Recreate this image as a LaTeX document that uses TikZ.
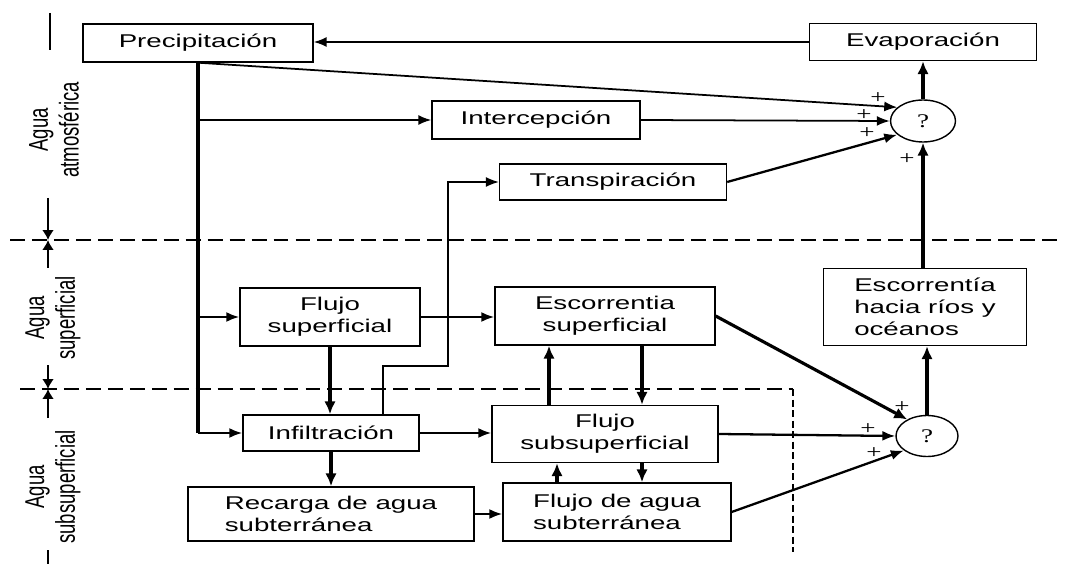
\documentclass[tikz,border=0pt]{standalone}
\usepackage{fontspec}
\setmainfont{Liberation Sans}[FakeStretch=1.5]
\newfontfamily\sidefont{Liberation Sans}[FakeStretch=0.68]
\newfontfamily\signfont{Liberation Serif}[FakeStretch=1.4]
\usetikzlibrary{arrows.meta,shapes.geometric}

\tikzset{
    box/.style={draw, line width=0.8pt, inner sep=0pt, align=center,
        font=\fontsize{10.5}{12.6}\selectfont},
    sum/.style={draw, ellipse, line width=0.8pt, inner sep=0pt,
        minimum width=1.3cm, minimum height=0.84cm,
        font=\signfont\fontsize{11}{13}\selectfont},
    side/.style={rotate=90, align=center,
        font=\sidefont\fontsize{15.5}{17.5}\selectfont},
    sign/.style={inner sep=0pt, font=\signfont\fontsize{11}{13}\selectfont},
    flow/.style={line width=1.3pt, -{Latex[length=2.6mm,width=2mm]}},
    bold flow/.style={line width=1.8pt, -{Latex[length=2.6mm,width=2.3mm]}},
    thin flow/.style={line width=1pt, -{Latex[length=2.6mm,width=2mm]}},
    zone/.style={line width=1.2pt, dash pattern=on 8.5pt off 4pt},
    mark line/.style={line width=1.2pt},
    mark arrow/.style={line width=1.2pt, -{Latex[length=2mm,width=2.4mm]}},
}

\begin{document}
\begin{tikzpicture}[x=0.02cm, y=-0.02cm]
\useasboundingbox (0,0) rectangle (1065,564);

%% Help lines
% \draw[help lines, step=50] (0,0) grid (1065,564);

%% Zones
\draw[zone] (10,240) -- (1060,240);
\draw[zone] (20,389) -- (793,389);
\draw[zone, line width=1.6pt, dash pattern=on 4pt off 2pt] (793,389) -- (793,552);

%% Side marks and labels
\draw[mark line] (50,13) -- (50,50);
\draw[mark arrow] (48,198) -- (48,240);
\draw[mark arrow] (48,268) -- (48,240);
\draw[mark arrow] (48,365) -- (48,389);
\draw[mark arrow] (48,418) -- (48,389);
\draw[mark line] (48,550) -- (48,564);

\node[side] (atmos) at (54,130) {Agua\\atmosférica};
\node[side] (super) at (53,318) {Agua\\superficial};
\node[side] (subsup) at (53,487) {Agua\\subsuperficial};

%% Boxes
\node[box, minimum width=4.6cm, minimum height=0.76cm] (prec) at (198,43) {Precipitación};
\node[box, minimum width=4.54cm, minimum height=0.74cm] (evap) at (923,42) {Evaporación};
\node[box, minimum width=4.16cm, minimum height=0.76cm] (inter) at (536,120) {Intercepción};
\node[box, minimum width=4.54cm, minimum height=0.72cm] (transp) at (613,182) {Transpiración};
\node[box, minimum width=3.6cm, minimum height=1.16cm] (fsup) at (330,317) {Flujo\\superficial};
\node[box, minimum width=4.4cm, minimum height=1.16cm] (esc) at (605,316) {Escorrentia\\superficial};
\node[box, minimum width=4.06cm, minimum height=1.54cm, align=left] (rios) at (925,307) {Escorrentía\\hacia ríos y\\océanos};
\node[box, minimum width=3.52cm, minimum height=0.72cm] (infil) at (331,433) {Infiltración};
\node[box, minimum width=4.52cm, minimum height=1.14cm] (fsub) at (605,434) {Flujo\\subsuperficial};
\node[box, minimum width=5.72cm, minimum height=1.08cm, align=left] (recarga) at (331,514) {Recarga de agua\\subterránea};
\node[box, minimum width=4.56cm, minimum height=1.16cm, align=left] (fagua) at (617,512) {Flujo de agua\\subterránea};

%% Sums
\node[sum] (qtop) at (923,121) {?};
\node[sum, minimum width=1.24cm, minimum height=0.82cm] (qbot) at (927,436) {?};

%% Columns
\coordinate (tr1) at (383,366);
\coordinate (tr2) at (448,366);
\coordinate (up1) at (549,0);
\coordinate (dn1) at (642,0);
\coordinate (up2) at (557,0);

%% Atmosphere
\draw[thin flow] (evap.west) -- (evap.west -| prec.east);
\draw[bold flow] (qtop.north) -- (qtop.north |- evap.south);
\draw[line width=1.8pt] (prec.south) -- (prec.south |- infil.west);
\draw[thin flow] (prec.south) -- (qtop.152);
\draw[thin flow] (prec.south |- inter.west) -- (inter.west);
\draw[thin flow] (inter.east) -- (qtop.west);
\draw[flow] (transp.east) -- (qtop.208);
\draw[line width=0.7pt, -{Latex[length=2.6mm,width=2mm]}]
    (infil.north -| tr1) -- (tr1) -- (tr2) |- (transp.west);
\draw[bold flow] (rios.north -| qtop.south) -- (qtop.south);

%% Surface
\draw[flow] (prec.south |- fsup.west) -- (fsup.west);
\draw[flow] (fsup.east) -- (fsup.east -| esc.west);
\draw[bold flow] (fsup.south) -- (fsup.south |- infil.north);
\draw[bold flow] (esc.east) -- (qbot.140);
\draw[bold flow] (qbot.north) -- (qbot.north |- rios.south);

%% Subsurface
\draw[flow] (prec.south |- infil.west) -- (infil.west);
\draw[flow] (infil.east) -- (infil.east -| fsub.west);
\draw[bold flow] (infil.south) -- (infil.south |- recarga.north);
\draw[bold flow] (fsub.north -| up1) -- (esc.south -| up1);
\draw[bold flow] (esc.south -| dn1) -- (fsub.north -| dn1);
\draw[bold flow] (fagua.north -| up2) -- (fsub.south -| up2);
\draw[bold flow] (fsub.south -| dn1) -- (fagua.north -| dn1);
\draw[flow] (recarga.east) -- (recarga.east -| fagua.west);
\draw[flow] (fsub.east) -- (qbot.west);
\draw[flow] (fagua.east) -- (qbot.212);

%% Signs
\node[sign] (s1) at (878,98) {+};
\node[sign] (s2) at (864,115) {+};
\node[sign] (s3) at (867,133) {+};
\node[sign] (s4) at (907,159) {+};
\node[sign] (s5) at (902,407) {+};
\node[sign] (s6) at (868,429) {+};
\node[sign] (s7) at (874,453) {+};
\end{tikzpicture}
\end{document}
